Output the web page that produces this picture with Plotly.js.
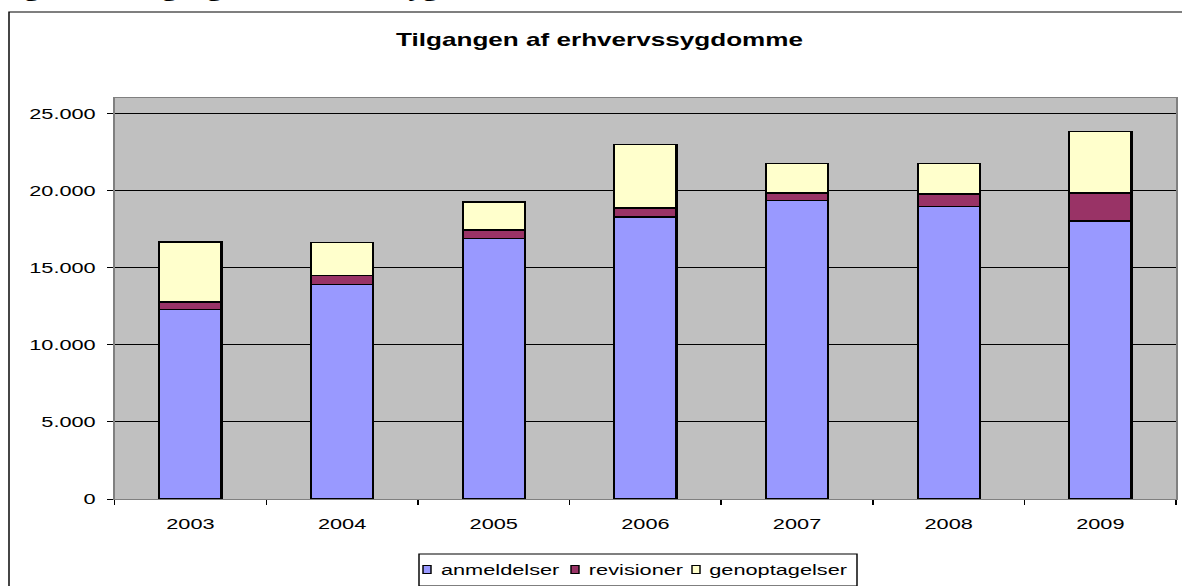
<!DOCTYPE html>
<html>
<head>
<meta charset="utf-8">
<script src="https://cdn.plot.ly/plotly-3.0.1.min.js"></script>
<style>
  html, body { margin: 0; padding: 0; background: #ffffff; }
  #wrap { width: 1182px; height: 586px; overflow: hidden; position: relative; }
  #chart { height: 586px; transform-origin: 0 0; }
</style>
</head>
<body>
<div id="wrap"><div id="chart"></div></div>
<script>
// ---- data ----
const years = ['2003', '2004', '2005', '2006', '2007', '2008', '2009'];
const anmeldelser   = [12300, 13900, 16890, 18300, 19370, 18980, 18030];
const revisioner    = [460, 590, 540, 560, 470, 780, 1810];
const genoptagelser = [3900, 2140, 1830, 4120, 1900, 1990, 4000];
const seriesNames = ['anmeldelser', 'revisioner', 'genoptagelser'];
const seriesColors = ['#9999FF', '#993366', '#FFFFCC'];
const chartTitle = 'Tilgangen af erhvervssygdomme';
const captionText = 'Figur 3.1: Tilgangen af erhvervssygdomme';

// ---- horizontal stretch of the reference picture ----
const FULL_W = 1182, H = 586, DIV_W = 815;
const k = FULL_W / DIV_W;
const el = document.getElementById('chart');
el.style.width = DIV_W + 'px';
el.style.transform = 'scaleX(' + k + ')';

const M = { l: 79, r: 4, t: 98, b: 87 };
const plotW = DIV_W - M.l - M.r, plotH = H - M.t - M.b;
// picture pixel -> paper coordinate helpers
const px = v => (v / k - M.l) / plotW;
const py = v => (H - M.b - v) / plotH;

const font = 'Liberation Sans, Arial, sans-serif';
const lineStyle = { color: '#000000', width: 1.5 };

const traces = [anmeldelser, revisioner, genoptagelser].map((vals, i) => ({
  type: 'bar', name: seriesNames[i], x: years, y: vals,
  marker: { color: seriesColors[i], line: lineStyle }
}));

// legend drawn as a boxed row (positions in picture pixels)
const legendBox = { x0: 419, x1: 857, y0: 554, y1: 586 };
const legendItems = [
  { sym: 423, text: 439 },
  { sym: 571, text: 587 },
  { sym: 692, text: 708 }
];
const legendMid = 569.5, symSize = 8;

const shapes = [
  { type: 'rect', xref: 'paper', yref: 'paper',
    x0: px(9), x1: px(1200), y0: py(600), y1: py(12),
    line: { color: '#000000', width: 1 }, fillcolor: 'rgba(0,0,0,0)', layer: 'below' },
  { type: 'rect', xref: 'paper', yref: 'paper',
    x0: px(legendBox.x0), x1: px(legendBox.x1), y0: py(legendBox.y1), y1: py(legendBox.y0),
    line: { color: '#000000', width: 1 }, fillcolor: '#ffffff', layer: 'above' }
];
const annotations = [
  { text: '<b>' + chartTitle + '</b>', xref: 'paper', yref: 'paper',
    x: px(600), y: py(40), xanchor: 'center', yanchor: 'middle',
    showarrow: false, font: { family: font, size: 18, color: '#000000' } },
  { text: '<b>' + captionText + '</b>', xref: 'paper', yref: 'paper',
    x: px(-4), y: py(-10), xanchor: 'left', yanchor: 'middle',
    showarrow: false, font: { family: 'Liberation Serif, Times New Roman, serif', size: 20, color: '#000000' } }
];
seriesNames.forEach((name, i) => {
  const it = legendItems[i];
  shapes.push({ type: 'rect', xref: 'paper', yref: 'paper',
    x0: px(it.sym), x1: px(it.sym + symSize),
    y0: py(legendMid + symSize / 2), y1: py(legendMid - symSize / 2),
    line: { color: '#000000', width: 1 }, fillcolor: seriesColors[i], layer: 'above' });
  annotations.push({ text: name, xref: 'paper', yref: 'paper',
    x: px(it.text), y: py(legendMid), xanchor: 'left', yanchor: 'middle',
    showarrow: false, borderpad: 0,
    font: { family: font, size: 15, color: '#000000' } });
});

const layout = {
  width: DIV_W, height: H,
  margin: { l: M.l, r: M.r, t: M.t, b: M.b, pad: 0 },
  paper_bgcolor: '#ffffff',
  plot_bgcolor: '#C0C0C0',
  barmode: 'stack',
  bargap: 0.59,
  separators: ',.',
  showlegend: false,
  font: { family: font, color: '#000000', size: 14 },
  xaxis: {
    type: 'category',
    tickson: 'boundaries',
    ticks: 'outside', ticklen: 5, tickcolor: '#000000', tickwidth: 1,
    ticklabelstandoff: 11,
    showgrid: false,
    showline: true, linecolor: '#808080', linewidth: 1, mirror: true,
    tickfont: { family: font, size: 15, color: '#000000' }
  },
  yaxis: {
    range: [0, 26000],
    tickvals: [0, 5000, 10000, 15000, 20000, 25000],
    tickformat: ',d',
    ticks: 'outside', ticklen: 4, tickcolor: '#000000', tickwidth: 1,
    ticklabelstandoff: 5,
    showgrid: true, gridcolor: '#000000', gridwidth: 1,
    zeroline: false,
    showline: true, linecolor: '#808080', linewidth: 1, mirror: true,
    tickfont: { family: font, size: 15, color: '#000000' }
  },
  annotations: annotations,
  shapes: shapes
};

Plotly.newPlot(el, traces, layout, { displayModeBar: false, staticPlot: true });
</script>
</body>
</html>
